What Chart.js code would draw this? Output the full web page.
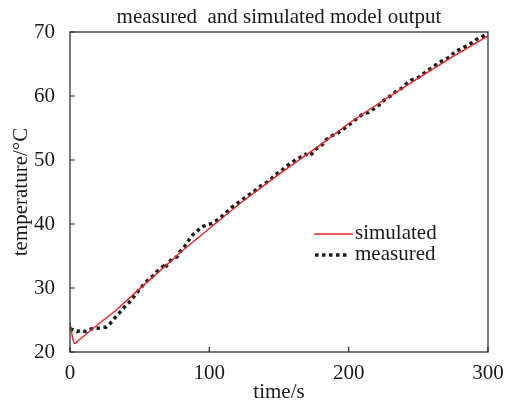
<!DOCTYPE html>
<html lang="en">
<head>
    <meta charset="UTF-8">
    <title>measured and simulated model output</title>
    <script src="https://cdn.jsdelivr.net/npm/chart.js"></script>
    <style>
        body {
            margin: 0;
            background-color: #ffffff;
        }
        canvas {
            display: block;
        }
    </style>
</head>
<body>
    <canvas id="graph" width="512" height="407"></canvas>

    <script>
        // simulated model output (red line)
        const simTime = [0, 1, 2, 3, 4, 6, 10, 20, 33.5, 50, 60, 80, 100, 122, 150, 180, 200, 222, 250, 275, 300];
        const simTemp = [24.5, 23.3, 22.0, 21.35, 21.4, 21.8, 22.5, 24.3, 26.6, 29.9, 31.8, 35.7, 39.3, 43.2, 47.8, 52.4, 55.7, 58.9, 62.8, 66.2, 69.4];

        // measured temperature (dotted black line)
        const measTime = [0, 2, 5, 8, 11, 14, 17, 20, 23, 26, 29, 32, 35, 38, 41, 44, 47, 50, 53, 56,
            59, 62, 65, 67, 68, 71, 74, 77, 79, 82, 85, 88, 91, 94, 98, 102, 105, 108, 112, 116,
            120, 124, 128, 132, 135, 140, 144, 147, 151, 155, 160, 165, 169, 172, 177, 181, 184, 188, 192, 196,
            201, 206, 211, 214, 218, 222, 224, 227, 231, 235, 238, 242, 245, 250, 254, 257, 261, 264, 268, 273,
            276, 279, 282, 286, 291, 294, 298, 300];
        const measTemp = [23.6, 23.5, 23.2, 23.4, 23.2, 23.5, 23.7, 23.7, 23.8, 23.9, 24.5, 25.3, 26.0, 26.8, 27.4, 28.1, 29.0, 29.8, 30.6, 31.25,
            31.8, 32.5, 33.1, 33.4, 33.0, 34.1, 34.6, 34.9, 35.7, 36.4, 37.4, 38.3, 38.8, 39.5, 39.85, 40.1, 40.5, 41.0, 41.8, 42.6,
            43.2, 43.85, 44.5, 45.05, 45.7, 46.35, 46.95, 47.65, 48.2, 48.95, 49.75, 50.4, 50.9, 50.6, 51.8, 52.4, 53.2, 53.8, 54.2, 54.8,
            55.6, 56.5, 57.3, 57.4, 58.0, 58.6, 59.1, 59.6, 60.15, 60.9, 61.2, 62.0, 62.5, 62.9, 63.55, 64.05, 64.6, 65.1, 65.6, 66.15,
            66.9, 67.2, 67.55, 67.95, 68.75, 69.1, 69.5, 69.7];

        const xTicks = [0, 100, 200, 300];
        const yTicks = [20, 30, 40, 50, 60, 70];

        const serif = '"Liberation Serif", "Times New Roman", serif';
        const textColor = '#1a1a1a';
        const simColor = '#e8262a';
        const measColor = '#1e1e1e';

        // frame, inward ticks, title and legend
        const framePlugin = {
            id: 'frame',
            afterDatasetsDraw(chart) {
                const ctx = chart.ctx;
                const a = chart.chartArea;
                const xs = chart.scales.x;
                const ys = chart.scales.y;
                ctx.save();
                ctx.strokeStyle = '#222';
                ctx.lineWidth = 1.2;
                ctx.strokeRect(a.left, a.top, a.right - a.left, a.bottom - a.top);
                ctx.beginPath();
                xTicks.forEach(v => {
                    const px = xs.getPixelForValue(v);
                    ctx.moveTo(px, a.bottom);
                    ctx.lineTo(px, a.bottom - 5);
                });
                yTicks.forEach(v => {
                    const py = ys.getPixelForValue(v);
                    ctx.moveTo(a.left, py);
                    ctx.lineTo(a.left + 5, py);
                });
                ctx.stroke();

                ctx.fillStyle = textColor;
                ctx.font = '21px ' + serif;
                ctx.textAlign = 'center';
                ctx.textBaseline = 'alphabetic';
                ctx.fillText('measured  and simulated model output', (a.left + a.right) / 2, 23);

                // legend
                ctx.textAlign = 'left';
                ctx.textBaseline = 'middle';
                ctx.beginPath();
                ctx.strokeStyle = simColor;
                ctx.lineWidth = 1.4;
                ctx.moveTo(314, 234);
                ctx.lineTo(353, 234);
                ctx.stroke();
                ctx.fillText('simulated', 355, 233);
                ctx.beginPath();
                ctx.strokeStyle = measColor;
                ctx.lineWidth = 3.5;
                ctx.setLineDash([3.5, 3.5]);
                ctx.moveTo(315, 255);
                ctx.lineTo(350, 255);
                ctx.stroke();
                ctx.setLineDash([]);
                ctx.fillText('measured', 355, 254);
                ctx.restore();
            }
        };

        const ctx = document.getElementById('graph').getContext('2d');
        new Chart(ctx, {
            type: 'line',
            data: {
                datasets: [
                    {
                        label: 'simulated',
                        data: simTime.map((t, i) => ({ x: t, y: simTemp[i] })),
                        borderColor: simColor,
                        borderWidth: 1.4,
                        pointRadius: 0,
                        fill: false,
                    },
                    {
                        label: 'measured',
                        data: measTime.map((t, i) => ({ x: t, y: measTemp[i] })),
                        borderColor: measColor,
                        borderWidth: 3.5,
                        borderDash: [3.5, 3.5],
                        pointRadius: 0,
                        fill: false,
                    },
                ],
            },
            options: {
                responsive: false,
                animation: false,
                layout: { padding: { top: 32, right: 24, left: 0, bottom: 0 } },
                plugins: {
                    legend: { display: false },
                    tooltip: { enabled: false },
                },
                scales: {
                    x: {
                        type: 'linear',
                        min: 0,
                        max: 300,
                        afterBuildTicks: s => { s.ticks = xTicks.map(v => ({ value: v })); },
                        afterFit: s => { s.height = 55; },
                        grid: { display: false },
                        border: { display: false },
                        ticks: { color: textColor, font: { family: serif, size: 21 }, padding: 1, maxRotation: 0 },
                        title: { display: true, text: 'time/s', color: textColor, font: { family: serif, size: 21 }, padding: { top: 0, bottom: 2 } },
                    },
                    y: {
                        min: 20,
                        max: 70,
                        afterBuildTicks: s => { s.ticks = yTicks.map(v => ({ value: v })); },
                        afterFit: s => { s.width = 70; },
                        grid: { display: false },
                        border: { display: false },
                        ticks: { color: textColor, font: { family: serif, size: 21 }, padding: 7 },
                        title: { display: true, text: 'temperature/°C', color: textColor, font: { family: serif, size: 21 }, padding: { top: 9, bottom: 2 } },
                    },
                },
            },
            plugins: [framePlugin],
        });
    </script>
</body>
</html>
